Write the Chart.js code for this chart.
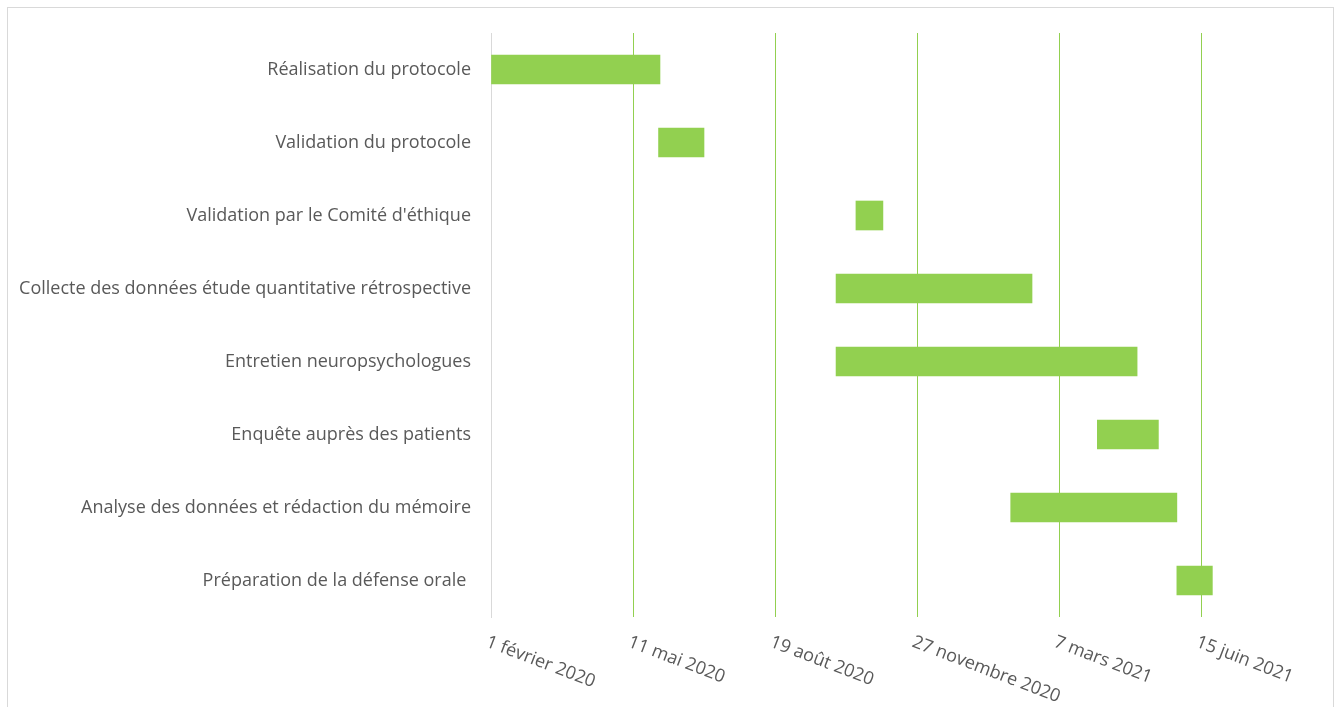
<!DOCTYPE html>
<html lang="fr">
<head>
<meta charset="utf-8">
<title>Calendrier du mémoire</title>
<script src="https://cdn.jsdelivr.net/npm/chart.js@4.4.1/dist/chart.umd.min.js"></script>
<style>
    html, body { margin: 0; padding: 0; background: #fff; }
    #wrap { width: 1341px; height: 707px; }
</style>
</head>
<body>
<div id="wrap"><canvas id="gantt" width="1341" height="707"></canvas></div>
<script>
// Tâches (de haut en bas)
const tasks = [
    'Réalisation du protocole',
    'Validation du protocole',
    "Validation par le Comité d'éthique",
    'Collecte des données étude quantitative rétrospective',
    'Entretien neuropsychologues',
    'Enquête auprès des patients',
    'Analyse des données et rédaction du mémoire',
    'Préparation de la défense orale '
];
const startDates = ['2020-02-01', '2020-05-29', '2020-10-15', '2020-10-01', '2020-10-01', '2021-04-03', '2021-02-01', '2021-05-29'];
const endDates   = ['2020-05-30', '2020-06-30', '2020-11-03', '2021-02-16', '2021-05-01', '2021-05-16', '2021-05-29', '2021-06-23'];

// Axe des dates
const axisStart = '2020-02-01';
const axisEnd = '2021-08-04';
const tickDates = ['2020-02-01', '2020-05-11', '2020-08-19', '2020-11-27', '2021-03-07', '2021-06-15'];
const tickLabels = ['1 février 2020', '11 mai 2020', '19 août 2020', '27 novembre 2020', '7 mars 2021', '15 juin 2021'];

const GREEN = '#92d050';
const GREY_TEXT = '#595959';
const GREY_LINE = '#d9d9d9';
const FONT = { family: '"Open Sans", sans-serif', size: 18 };

// nombre de jours depuis le début de l'axe
function day(str) {
    return (Date.parse(str) - Date.parse(axisStart)) / 86400000;
}

// cadre du graphique
const frame = {
    id: 'frame',
    beforeDraw(chart) {
        const ctx = chart.ctx;
        ctx.save();
        ctx.fillStyle = '#fff';
        ctx.fillRect(0, 0, chart.width, chart.height);
        ctx.strokeStyle = GREY_LINE;
        ctx.lineWidth = 1;
        ctx.strokeRect(7.5, 7.5, 1326, 700);
        ctx.restore();
    }
};

// étiquettes de dates inclinées vers le bas
const slantedLabels = {
    id: 'slantedLabels',
    afterDraw(chart) {
        const ctx = chart.ctx;
        const x = chart.scales.x;
        const bottom = chart.chartArea.bottom;
        ctx.save();
        ctx.fillStyle = GREY_TEXT;
        ctx.font = FONT.size + 'px ' + FONT.family;
        ctx.textAlign = 'left';
        ctx.textBaseline = 'top';
        tickDates.forEach((d, i) => {
            const px = x.getPixelForValue(day(d));
            ctx.save();
            ctx.translate(px - 1, bottom + 16);
            ctx.rotate(21 * Math.PI / 180);
            ctx.fillText(tickLabels[i], 0, 0);
            ctx.restore();
        });
        ctx.restore();
    }
};

new Chart(document.getElementById('gantt'), {
    type: 'bar',
    data: {
        labels: tasks,
        datasets: [{
            data: tasks.map((t, i) => [day(startDates[i]), day(endDates[i])]),
            backgroundColor: GREEN,
            borderWidth: 0,
            barThickness: 29
        }]
    },
    options: {
        indexAxis: 'y',
        responsive: false,
        animation: false,
        layout: { padding: { top: 33, right: 69, bottom: 0, left: 0 } },
        plugins: {
            legend: { display: false },
            tooltip: { enabled: false }
        },
        scales: {
            x: {
                type: 'linear',
                min: 0,
                max: day(axisEnd),
                afterBuildTicks: (scale) => {
                    scale.ticks = tickDates.map(d => ({ value: day(d) }));
                },
                afterFit: (scale) => { scale.height = 90; },
                ticks: { display: false },
                grid: {
                    color: tickDates.map(d => (day(d) === 0 ? GREY_LINE : GREEN)),
                    lineWidth: 1,
                    drawTicks: false
                },
                border: { display: false }
            },
            y: {
                afterFit: (scale) => { scale.width = 491; },
                ticks: { color: GREY_TEXT, font: FONT, padding: 20 },
                grid: { display: false, drawTicks: false },
                border: { display: true, color: GREY_LINE }
            }
        }
    },
    plugins: [frame, slantedLabels]
});
</script>
</body>
</html>
